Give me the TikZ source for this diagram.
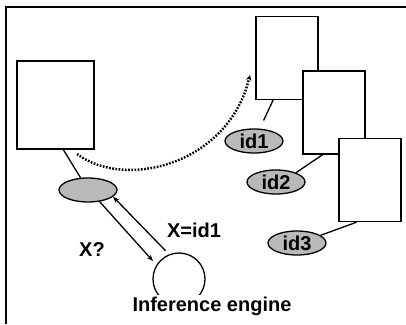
\documentclass[tikz,border=0pt]{standalone}
\usepackage{fontspec}
\setsansfont{Liberation Sans}
\usepackage{tikz}
\usetikzlibrary{arrows.meta, positioning, calc, shapes.geometric}
\newcommand{\lblfont}{\fontsize{20}{22}\selectfont\sffamily\bfseries}

\begin{document}
\begin{tikzpicture}[
    x=1pt, y=-1pt,
    >={Stealth[length=6.5pt, width=5pt]},
    doc/.style={rectangle, draw, fill=white, line width=1.3pt,
      minimum width=62pt, minimum height=83pt, inner sep=0pt},
    tag/.style={ellipse, draw, fill=gray!55, line width=1.3pt,
      minimum width=58pt, minimum height=24pt, inner sep=0pt, font=\lblfont},
    lbl/.style={font=\lblfont, inner sep=1pt},
    link/.style={line width=1.3pt},
    move/.style={line width=2.4pt, dash pattern=on 1.7pt off 1.5pt,
      -{Stealth[length=5.5pt, width=5.5pt]}}
  ]
  \useasboundingbox (0,0) rectangle (406,324);
  \draw[line width=1.5pt] (6,324) -- (6,7) -- (406,7);

  % left side: document, its pointer, inference engine
  \node[doc, minimum width=77pt, minimum height=88pt] (src) at (55.5,105) {};
  \node[tag] (qry) at (88,190) {};
  \node[circle, draw, line width=1.3pt, minimum size=52pt] (eng) at (179,279) {};
  \node[lbl, fill=white, anchor=base, inner sep=2pt] (englbl) at (212,311) {Inference engine};
  \draw[link] ($(src.south west)!0.6!(src.south east)$) -- (qry);

  \draw[link, ->, shorten >=5pt] (qry.-45) -- (eng.148);
  \draw[link, ->, shorten <=5pt] (eng.112) -- (qry.-15);
  \node[lbl] (ask) at (92,250) {X?};
  \node[lbl] (ans) at (194,230) {X=id1};

  % right side: stacked documents with their ids
  \node[doc] (b1) at (287,58) {};
  \node[doc] (b2) at (334,112.5) {};
  \node[doc] (b3) at (370,180) {};
  \node[tag] (id1) at (254,141) {id1};
  \node[tag] (id2) at (276,182) {id2};
  \node[tag] (id3) at (297,243) {id3};
  \draw[link, shorten <=9pt] (id1) -- ($(b1.south west)!0.28!(b1.south east)$);
  \draw[link] ($(b2.south west)!0.32!(b2.south east)$) -- (id2.25);
  \draw[link] ($(b3.south west)!0.29!(b3.south east)$) -- (id3.18);

  % the pointer moves over
  \coordinate (mv0) at (77,154);
  \coordinate (mv1) at (250,75);
  \draw[move] (mv0) .. controls (125,190) and (228,165) .. (mv1);
\end{tikzpicture}
\end{document}
